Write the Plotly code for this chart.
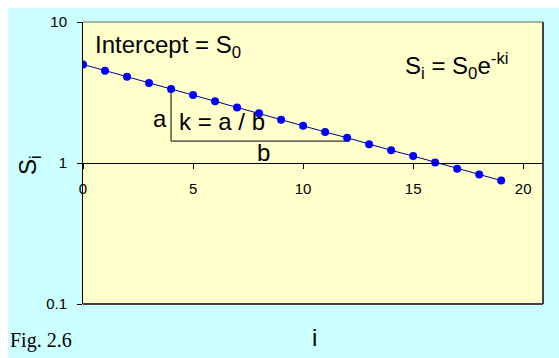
import plotly.graph_objects as go

# Decay series S_i over step i
steps = list(range(20))
s_values = [5.00, 4.52, 4.09, 3.70, 3.35, 3.03, 2.74, 2.48, 2.25, 2.03,
            1.84, 1.66, 1.51, 1.36, 1.23, 1.12, 1.01, 0.91, 0.83, 0.75]

# Slope triangle (a over b) drawn under the line
tri_x = [4, 4, 12.1]
tri_y = [3.35, 1.43, 1.43]

x_ticks = [0, 5, 10, 15, 20]
y_ticks = [0.1, 1, 10]
y_ticklabels = ["0.1", "1", "10"]

W, H = 559, 358
L, R, T, B = 83, 16, 22, 54
PW, PH = W - L - R, H - T - B


def px(x):
    return (x - L) / PW


def py(y):
    return (H - B - y) / PH


SANS = "Arial, Liberation Sans, sans-serif"

fig = go.Figure()

fig.add_trace(go.Scatter(
    x=tri_x, y=tri_y, mode="lines",
    line=dict(color="black", width=1), hoverinfo="skip", showlegend=False))

fig.add_trace(go.Scatter(
    x=steps, y=s_values, mode="lines+markers",
    line=dict(color="#000080", width=1),
    marker=dict(color="#0000FF", size=8),
    showlegend=False))

shapes = [
    # cyan chart area
    dict(type="rect", xref="paper", yref="paper",
         x0=px(8), x1=px(W + 2), y0=py(H + 2), y1=py(8),
         fillcolor="#CCFFFF", line=dict(width=0), layer="below"),
    # pale yellow plot area
    dict(type="rect", xref="paper", yref="paper",
         x0=0, x1=1, y0=0, y1=1,
         fillcolor="#FFFFCC", line=dict(width=0), layer="below"),
    # plot area border
    dict(type="line", xref="paper", yref="paper", x0=0, x1=1, y0=1, y1=1,
         line=dict(color="#666666", width=1)),
    dict(type="line", xref="paper", yref="paper", x0=1, x1=1, y0=0, y1=1,
         line=dict(color="#404040", width=2)),
    dict(type="line", xref="paper", yref="paper", x0=0, x1=1, y0=0, y1=0,
         line=dict(color="#404040", width=2)),
]

big = dict(family=SANS, size=24, color="black")
annotations = [
    dict(text="Intercept = S<sub>0</sub>", x=px(168), y=py(46)),
    dict(text="S<sub>i</sub> = S<sub>0</sub>e<sup>-ki</sup>", x=px(457), y=py(66)),
    dict(text="a", x=px(160), y=py(118)),
    dict(text="k = a / b", x=px(222), y=py(122)),
    dict(text="b", x=px(263), y=py(152)),
    dict(text="i", x=px(314), y=py(337)),
    dict(text="S<sub>i</sub>", x=px(29), y=py(165), textangle=-90),
]
for a in annotations:
    a.update(xref="paper", yref="paper", xanchor="center", yanchor="middle",
             showarrow=False, font=big)
annotations.append(dict(
    text="Fig. 2.6", x=px(41), y=py(340), xref="paper", yref="paper",
    xanchor="center", yanchor="middle", showarrow=False,
    font=dict(family="Liberation Serif, Times New Roman, serif", size=20,
              color="black")))

fig.update_layout(
    width=W, height=H,
    margin=dict(l=L, r=R, t=T, b=B, pad=0),
    paper_bgcolor="white",
    plot_bgcolor="rgba(0,0,0,0)",
    shapes=shapes,
    annotations=annotations,
    xaxis=dict(
        range=[0, 20.9], tickvals=x_ticks, showgrid=False, zeroline=False,
        showline=True, linecolor="black", linewidth=1,
        ticks="outside", ticklen=5, tickcolor="black",
        anchor="free", position=0.5, ticklabelstandoff=7,
        tickfont=dict(family=SANS, size=15, color="black")),
    yaxis=dict(
        type="log", range=[-1, 1], tickvals=y_ticks, ticktext=y_ticklabels,
        showgrid=False, zeroline=False,
        showline=True, linecolor="black", linewidth=1,
        ticks="outside", ticklen=5, tickcolor="black", ticklabelstandoff=7,
        tickfont=dict(family=SANS, size=15, color="black")),
)

fig.write_html("out.html")
